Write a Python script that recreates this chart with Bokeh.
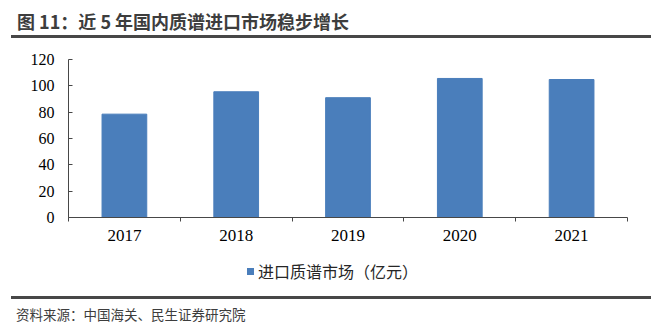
from bokeh.plotting import figure
from bokeh.models import Range1d, FixedTicker, ColumnDataSource, Div
from bokeh.layouts import column
from bokeh.embed import file_html
from bokeh.resources import INLINE

# ---- data ----
years = [2017, 2018, 2019, 2020, 2021]
import_market = [78.5, 95.5, 91.0, 105.6, 104.8]
y_ticks = [0, 20, 40, 60, 80, 100, 120]
title_text = "图 11：近 5 年国内质谱进口市场稳步增长"
legend_label = "进口质谱市场（亿元）"
source_text = "资料来源：中国海关、民生证券研究院"

W = 668
CJK = "Noto Sans CJK SC"
SERIF = "Liberation Serif"
BAR = "#4a7ebb"
RULE = "#474747"

# ---- header (title + rule) ----
head_html = (
    '<div style="position:relative;width:668px;height:40px;margin:0;padding:0;">'
    '<div style="position:absolute;left:17px;top:8px;font-family:\'Noto Sans CJK SC\';'
    'font-size:18px;font-weight:bold;color:#3d3d3d;line-height:26px;white-space:nowrap;">'
    + title_text +
    '</div>'
    '<div style="position:absolute;left:11px;top:35px;width:640px;height:3px;background:' + RULE + ';"></div>'
    '</div>'
)
head = Div(text=head_html, width=W, height=40, margin=(0, 0, 0, 0))

# ---- main chart ----
bounds = [y - 0.5 for y in years] + [years[-1] + 0.5]
p = figure(width=W, height=210,
           x_range=Range1d(years[0] - 0.5, years[-1] + 0.5),
           y_range=Range1d(0, 120),
           output_backend="svg", toolbar_location=None,
           min_border_left=68, min_border_right=41,
           min_border_top=19, min_border_bottom=33,
           outline_line_color=None, background_fill_color="white",
           border_fill_color="white")
p.grid.visible = False

src = ColumnDataSource(dict(x=years, top=import_market))
r = p.vbar(x="x", top="top", width=0.4, source=src, fill_color=BAR, line_color=BAR)

p.xaxis.ticker = FixedTicker(ticks=years, minor_ticks=bounds)
p.xaxis.major_tick_in = 0
p.xaxis.major_tick_out = 0
p.xaxis.minor_tick_in = 0
p.xaxis.minor_tick_out = 4
p.xaxis.minor_tick_line_color = RULE
p.xaxis.axis_line_color = RULE
p.xaxis.major_label_text_font = SERIF
p.xaxis.major_label_text_font_size = "17px"
p.xaxis.major_label_text_color = "black"
p.xaxis.major_label_standoff = 8

p.yaxis.ticker = FixedTicker(ticks=y_ticks)
p.yaxis.major_tick_in = 4
p.yaxis.major_tick_out = 0
p.yaxis.minor_tick_line_color = None
p.yaxis.major_tick_line_color = RULE
p.yaxis.axis_line_color = RULE
p.yaxis.major_label_text_font = SERIF
p.yaxis.major_label_text_font_size = "16px"
p.yaxis.major_label_text_color = "black"
p.yaxis.major_label_standoff = 14

# ---- legend + footer ----
foot_html = (
    '<div style="position:relative;width:668px;height:84px;margin:0;padding:0;">'
    '<div style="position:absolute;left:247px;top:18px;width:7px;height:7px;background:' + BAR + ';"></div>'
    '<div style="position:absolute;left:258px;top:10px;font-family:\'Noto Sans CJK SC\';'
    'font-size:16px;color:#262626;line-height:22px;white-space:nowrap;">'
    + legend_label +
    '</div>'
    '<div style="position:absolute;left:11px;top:46px;width:640px;height:3px;background:' + RULE + ';"></div>'
    '<div style="position:absolute;left:16px;top:54px;font-family:\'Noto Sans CJK SC\';'
    'font-size:13.5px;color:#3d3d3d;line-height:20px;white-space:nowrap;">'
    + source_text +
    '</div>'
    '</div>'
)
foot = Div(text=foot_html, width=W, height=84, margin=(0, 0, 0, 0))

layout = column(head, p, foot, spacing=0)
open("out.html", "w").write(file_html(layout, INLINE))
